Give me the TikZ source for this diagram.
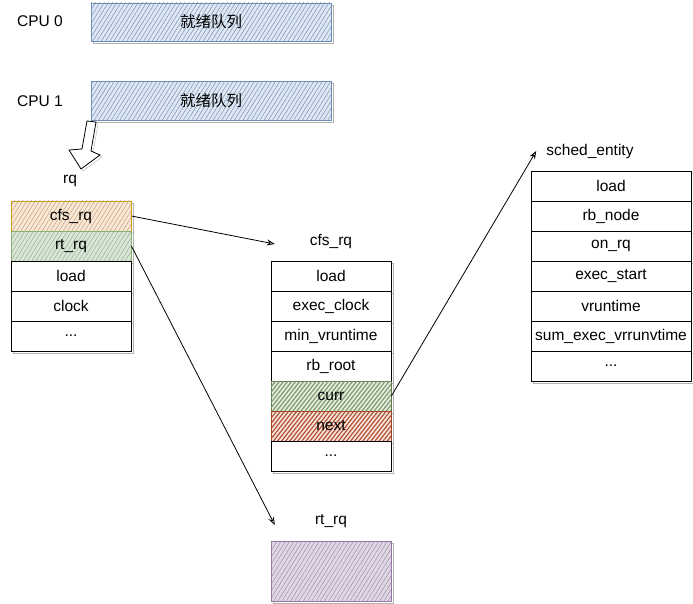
\documentclass[tikz,border=0pt]{standalone}
\usepackage{fontspec}
\setmainfont{Liberation Sans}
\newfontfamily\cjk{Noto Sans CJK SC}
\usetikzlibrary{patterns.meta,arrows.meta}

\definecolor{blueline}{HTML}{6C8EBF}
\definecolor{bluefill}{HTML}{DAE8FC}
\definecolor{orangeline}{HTML}{D79B00}
\definecolor{orangefill}{HTML}{FFE6CC}
\definecolor{greenline}{HTML}{82B366}
\definecolor{greenfill}{HTML}{D5E8D4}
\definecolor{currline}{HTML}{5A7A4A}
\definecolor{currhatch}{HTML}{7D9A6E}
\definecolor{currfill}{HTML}{E6EEE2}
\definecolor{nextline}{HTML}{A0401F}
\definecolor{nexthatch}{HTML}{B24E2E}
\definecolor{nextfill}{HTML}{F6E6DE}
\definecolor{purpleline}{HTML}{9673A6}
\definecolor{purplefill}{HTML}{E1D5E7}

\tikzset{
  lbl/.style={font=\fontsize{15.5}{18}\selectfont, inner sep=0pt},
  shadowed/.style={preaction={draw=black!30, line width=0.8pt,
      transform canvas={xshift=2pt, yshift=-2pt}}},
  field/.style={lbl, shadowed, draw, line width=0.8pt, fill=white,
      minimum width=120pt, minimum height=30pt},
  widefield/.style={field, minimum width=160pt},
  hatch/.style 2 args={fill=#1, postaction={pattern={Lines[angle=58,distance=3.6pt,line width=0.5pt]}, pattern color=#2}},
  densehatch/.style 2 args={fill=#1, postaction={pattern={Lines[angle=52,distance=3.2pt,line width=1.2pt]}, pattern color=#2}},
  link/.style={line width=0.8pt, -{Stealth[length=8pt,width=6pt,open]}},
}

\begin{document}
\begin{tikzpicture}[x=1pt, y=-1pt]
\useasboundingbox (0,0) rectangle (693,604);

% per-CPU ready queues
\node[lbl] (cpu0) at (40,21) {CPU 0};
\node[lbl] (cpu1) at (40,101) {CPU 1};
\node[field, hatch={bluefill}{black!45}, draw=blueline, minimum width=240pt, minimum height=38pt]
  (rq0) at (211,22) {\cjk 就绪队列};
\node[field, hatch={bluefill}{black!45}, draw=blueline, minimum width=240pt, minimum height=39pt]
  (rq1) at (211,101) {\cjk 就绪队列};

% hollow block arrow down to rq
\draw[line width=0.8pt, fill=white, preaction={draw=black!30, transform canvas={xshift=2pt,yshift=-2pt}}]
  (87,121) -- (96,122) -- (91,151) -- (100,155) -- (81,169) -- (69,150) -- (82,149) -- cycle;

% struct rq
\node[lbl] (rqlbl) at (70,181) {rq};
\node[field, hatch={orangefill}{black!35}, draw=orangeline] (rqcfs) at (71,216) {cfs\_rq};
\node[field, hatch={greenfill}{black!35}, draw=greenline] (rqrt) at (71,246) {rt\_rq};
\node[field] (rqload) at (71,276) {load};
\node[field] (rqclock) at (71,306) {clock};
\node[field] (rqmore) at (71,336) {...};

% struct cfs_rq
\node[lbl, minimum width=120pt] (cfslbl) at (331,241) {cfs\_rq};
\node[field] (cfsload) at (331,276) {load};
\node[field] (cfsexec) at (331,306) {exec\_clock};
\node[field] (cfsmin) at (331,336) {min\_vruntime};
\node[field] (cfsroot) at (331,366) {rb\_root};
\node[field, densehatch={currfill}{currhatch}, draw=currline] (cfscurr) at (331,396) {curr};
\node[field, densehatch={nextfill}{nexthatch}, draw=nextline] (cfsnext) at (331,426) {next};
\node[field] (cfsmore) at (331,456) {...};

% struct rt_rq
\node[lbl, minimum width=120pt] (rtlbl) at (331,521) {rt\_rq};
\node[field, hatch={purplefill}{black!40}, draw=purpleline, minimum height=60pt] (rtbox) at (331,571) {};

% struct sched_entity
\node[lbl] (selbl) at (590,151) {sched\_entity};
\node[widefield] (seload) at (611,186) {load};
\node[widefield] (senode) at (611,216) {rb\_node};
\node[widefield] (seonrq) at (611,246) {on\_rq};
\node[widefield] (sestart) at (611,276) {exec\_start};
\node[widefield] (sevrt) at (611,306) {vruntime};
\node[widefield] (sesum) at (611,336) {sum\_exec\_vrrunvtime};
\node[widefield] (semore) at (611,366) {...};

% pointers
\draw[link] (rqcfs.east) -- ([xshift=4pt,yshift=-3pt]cfslbl.west);
\draw[link] (rqrt.east) -- ([xshift=4pt,yshift=-4pt]rtlbl.west);
\draw[link] (cfscurr.east) -- ([xshift=-10pt]selbl.west);
\end{tikzpicture}
\end{document}
